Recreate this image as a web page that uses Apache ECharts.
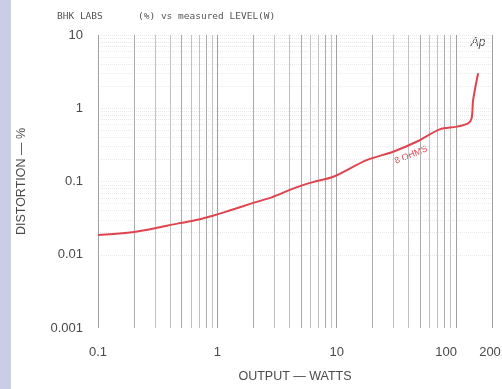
<!DOCTYPE html>
<html><head><meta charset="utf-8">
<script src="https://cdn.jsdelivr.net/npm/echarts@6/dist/echarts.min.js"></script>
<style>html,body{margin:0;padding:0;background:#fff}#c{width:502px;height:389px}</style>
</head><body><div id="c"></div>
<script>
// Data
const watts = [0.1, 0.2, 0.3, 0.47, 0.61, 0.9, 1.23, 1.94, 2.85, 4.47, 6.3, 9.35, 17.8, 29.7, 46.6, 73, 101, 126, 135, 139, 153];
const distortion = [0.0186, 0.0205, 0.023, 0.0268, 0.0288, 0.0338, 0.0395, 0.0503, 0.0608, 0.082, 0.098, 0.116, 0.196, 0.255, 0.349, 0.515, 0.561, 0.624, 0.73, 1.3, 3.0];
const xTickLabels = ['0.1', '1', '10', '100'];
const xExtraLabel = '200';
const yTickLabels = ['0.001', '0.01', '0.1', '1', '10'];
const seriesName = '8 OHMS';
const xMin = 0.1, xMax = 200, yMin = 0.001, yMax = 10;

// Grid line values (chart-paper lines)
const vLines = [];
for (let d = 0.1; d <= 100; d *= 10) {
  for (let n = 1; n <= 9; n++) {
    const v = +(n * d).toPrecision(3);
    if (v <= xMax) vLines.push(v);
  }
}
vLines.push(200);
const hLines = [];
for (let d = 0.001; d < 10; d *= 10) {
  for (let n = 1; n <= 9; n++) hLines.push(+(n * d).toPrecision(3));
}
hLines.push(10);

const chart = echarts.init(document.getElementById('c'), null, {renderer: 'canvas'});
const fmtX = v => {
  const s = String(+(+v).toPrecision(3));
  if (s === '100') return '{r|100}';
  return xTickLabels.indexOf(s) >= 0 ? s : '';
};
const fmtY = v => {
  const s = String(+(+v).toPrecision(3));
  return yTickLabels.indexOf(s) >= 0 ? s : '';
};
const txt = '#4a4a4a';
const option = {
  animation: false,
  backgroundColor: '#ffffff',
  grid: {left: 98, right: 10, top: 35, bottom: 61},
  xAxis: {
    type: 'log', logBase: 10, min: xMin, max: xMax,
    name: 'OUTPUT — WATTS', nameLocation: 'middle', nameGap: 42,
    nameTextStyle: {color: txt, fontSize: 12.5, fontFamily: 'Liberation Sans'},
    axisLine: {show: false}, axisTick: {show: false}, splitLine: {show: false},
    axisLabel: {formatter: fmtX, color: txt, fontSize: 13, margin: 18, fontFamily: 'Liberation Sans',
      rich: {r: {color: txt, fontSize: 13, fontFamily: 'Liberation Sans', padding: [0, 20, 0, 0]}}}
  },
  yAxis: {
    type: 'log', logBase: 10, min: yMin, max: yMax,
    name: 'DISTORTION — %', nameLocation: 'middle', nameGap: 70,
    nameTextStyle: {color: txt, fontSize: 12.5, fontFamily: 'Liberation Sans'},
    axisLine: {show: false}, axisTick: {show: false}, splitLine: {show: false},
    axisLabel: {formatter: fmtY, color: txt, fontSize: 13, margin: 15, fontFamily: 'Liberation Sans'}
  },
  series: [
    {
      type: 'line', data: [], silent: true,
      markLine: {
        silent: true, symbol: 'none', label: {show: false}, animation: false,
        data: hLines.map(v => ({yAxis: v, lineStyle: {color: '#e9e9e9', width: 1, type: 'dotted'}}))
          .concat(vLines.map((v, i) => ({xAxis: v, lineStyle: {
            color: (String(v).replace(/0|\./g, '') === '1' || v === 200) ? '#a0a0a0' : (i % 3 === 1 ? '#ababab' : '#c2c2c2'),
            width: 1, type: 'solid'}})))
      }
    },
    {
      name: seriesName, type: 'line', smooth: 0.3, showSymbol: false,
      data: watts.map((w, i) => [w, distortion[i]]),
      lineStyle: {color: '#e0444f', width: 2},
      z: 5
    }
  ]
};
chart.setOption(option);

const p200 = chart.convertToPixel({xAxisIndex: 0, yAxisIndex: 0}, [200, yMin]);
const pLab = chart.convertToPixel({xAxisIndex: 0, yAxisIndex: 0}, [42, 0.23]);
chart.setOption({
  graphic: [
    {type: 'rect', left: 0, top: 0, shape: {width: 11, height: 389}, style: {fill: '#cbcde6'}, silent: true},
    {type: 'text', x: p200[0] - 2, y: p200[1] + 18, style: {text: xExtraLabel, fill: txt, font: '13px "Liberation Sans"', align: 'center', verticalAlign: 'top'}},
    {type: 'text', x: pLab[0], y: pLab[1], rotation: 22 * Math.PI / 180,
      style: {text: seriesName, fill: '#e04a56', font: '9px "Liberation Sans"', align: 'center', verticalAlign: 'middle'}},
    {type: 'text', x: 57, y: 17, style: {text: 'BHK LABS', fill: '#555', font: '9.5px "DejaVu Sans Mono"', verticalAlign: 'middle'}},
    {type: 'text', x: 138, y: 17, style: {text: '(%) vs measured LEVEL(W)', fill: '#555', font: '9.5px "DejaVu Sans Mono"', verticalAlign: 'middle'}},
    {type: 'text', x: 478, y: 43, style: {text: 'Ap', fill: '#555', font: 'italic 12px "Liberation Sans"', align: 'center', verticalAlign: 'middle'}}
  ]
});
</script></body></html>
